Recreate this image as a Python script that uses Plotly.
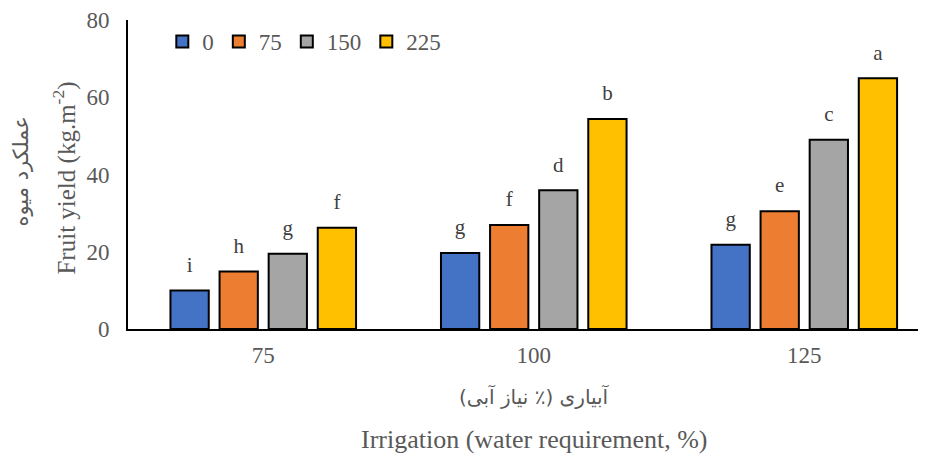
import plotly.graph_objects as go

irrigation = ["75", "100", "125"]
levels = ["0", "75", "150", "225"]
colors = ["#4472C4", "#ED7D31", "#A5A5A5", "#FFC000"]
yield_values = {
    "0": [10.0, 19.7, 21.8],
    "75": [14.9, 26.9, 30.5],
    "150": [19.5, 35.9, 49.0],
    "225": [26.2, 54.4, 64.9],
}
letters = {
    "0": ["i", "g", "g"],
    "75": ["h", "f", "e"],
    "150": ["g", "d", "c"],
    "225": ["f", "b", "a"],
}

serif = "Liberation Serif, Times New Roman, serif"
persian = "DejaVu Sans, sans-serif"
grey = "#595959"

fig = go.Figure()
for level, color in zip(levels, colors):
    fig.add_trace(
        go.Bar(
            x=irrigation,
            y=yield_values[level],
            name=level,
            offsetgroup=level,
            marker={"color": color, "line": {"color": "black", "width": 2}},
        )
    )
# significance letters above the bars
for level in levels:
    fig.add_trace(
        go.Scatter(
            x=irrigation,
            y=yield_values[level],
            mode="markers+text",
            offsetgroup=level,
            text=letters[level],
            textposition="top center",
            textfont={"family": serif, "size": 21, "color": "#404040"},
            marker={"size": 20, "color": "rgba(0,0,0,0)"},
            showlegend=False,
            hoverinfo="skip",
            cliponaxis=False,
        )
    )

fig.update_layout(
    width=918,
    height=448,
    margin={"l": 120, "r": 0, "t": 9, "b": 127},
    plot_bgcolor="white",
    paper_bgcolor="white",
    barmode="group",
    bargap=0.274,
    bargroupgap=0.22,
    scattermode="group",
    scattergap=0.274,
    font={"family": serif, "size": 23, "color": grey},
    showlegend=True,
    legend={
        "orientation": "h",
        "x": 0.043,
        "y": 1.0,
        "xanchor": "left",
        "yanchor": "top",
        "font": {"size": 23, "color": grey},
        "itemwidth": 30,
        "bgcolor": "rgba(0,0,0,0)",
    },
)
fig.update_xaxes(
    range=[-0.5, 2.45],
    showline=True,
    linecolor="black",
    linewidth=2,
    ticks="",
    showgrid=False,
    ticklabelstandoff=4,
    tickfont={"size": 23, "color": grey},
)
fig.update_yaxes(
    range=[0, 80],
    dtick=20,
    showline=True,
    linecolor="black",
    linewidth=2,
    ticks="",
    showgrid=False,
    zeroline=False,
    ticklabelstandoff=12,
    ticklabeloverflow="allow",
    tickfont={"size": 23, "color": grey},
)

fig.add_annotation(
    text="Fruit yield (kg.m<sup>-2</sup>)",
    xref="paper", yref="paper", x=-0.079, y=0.49,
    xanchor="center", yanchor="middle", textangle=-90, showarrow=False,
    font={"family": serif, "size": 25, "color": grey},
)
fig.add_annotation(
    text="عملکرد میوه",
    xref="paper", yref="paper", x=-0.134, y=0.51,
    xanchor="center", yanchor="middle", textangle=-90, showarrow=False,
    font={"family": persian, "size": 21, "color": grey},
)
fig.add_annotation(
    text="آبیاری (٪ نیاز آبی)",
    xref="paper", yref="paper", x=0.51, y=-0.218,
    xanchor="center", yanchor="middle", showarrow=False,
    font={"family": persian, "size": 20, "color": grey},
)
fig.add_annotation(
    text="Irrigation (water requirement, %)",
    xref="paper", yref="paper", x=0.51, y=-0.356,
    xanchor="center", yanchor="middle", showarrow=False,
    font={"family": serif, "size": 26, "color": grey},
)

fig.write_html("out.html")
